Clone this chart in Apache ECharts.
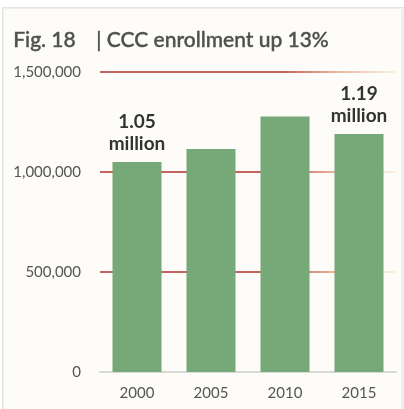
<!DOCTYPE html>
<html>
<head>
<meta charset="utf-8">
<script src="https://cdn.jsdelivr.net/npm/echarts@6/dist/echarts.min.js"></script>
<style>
  html, body { margin: 0; padding: 0; background: #ffffff; }
  #chart { width: 404px; height: 409px; }
</style>
</head>
<body>
<div id="chart"></div>
<script>
// Community college enrollment by year
const years = ['2000', '2005', '2010', '2015'];
const enrollment = [1050000, 1115000, 1277000, 1190000];
const valueLabels = ['1.05\nmillion', '', '', '1.19\nmillion'];
const yTicks = [0, 500000, 1000000, 1500000];

const chart = echarts.init(document.getElementById('chart'), null, { renderer: 'canvas' });

const fmt = v => v.toLocaleString('en-US');

chart.setOption({
  animation: false,
  backgroundColor: '#ffffff',
  graphic: [
    // card with a soft shadow on its top and left edges
    { type: 'rect', shape: { x: 2, y: 7, width: 402, height: 402 }, style: { fill: '#e4e4e2' }, silent: true, z: -10 },
    { type: 'rect', shape: { x: 3, y: 8, width: 401, height: 401 }, style: { fill: '#efefec' }, silent: true, z: -10 },
    { type: 'rect', shape: { x: 4, y: 9, width: 397, height: 400 }, style: { fill: '#fdfcf8' }, silent: true, z: -10 },
    {
      type: 'text', left: 13, top: 30,
      style: { text: 'Fig. 18', font: '500 21px Lato', fill: '#505050', stroke: '#505050', lineWidth: 0.4 }
    },
    {
      type: 'text', left: 96, top: 30,
      style: { text: '| CCC enrollment up 13%', font: '500 21px Lato', fill: '#505050', stroke: '#505050', lineWidth: 0.4 }
    }
  ],
  grid: { left: 100, right: 8, top: 72, bottom: 37 },
  xAxis: {
    type: 'category',
    data: years,
    axisLine: { show: true, lineStyle: { color: '#d9d9d6', width: 2 } },
    axisTick: { show: false },
    axisLabel: { color: '#555555', fontSize: 15, fontFamily: 'Lato', margin: 14 }
  },
  yAxis: {
    type: 'value',
    min: yTicks[0],
    max: yTicks[yTicks.length - 1],
    interval: yTicks[1] - yTicks[0],
    axisLine: { show: false },
    axisTick: { show: false },
    axisLabel: {
      color: '#555555', fontSize: 15, fontFamily: 'Lato', margin: 19,
      formatter: v => (v === 0 ? '0' : fmt(v))
    },
    splitLine: {
      show: true,
      lineStyle: {
        width: 1.5,
        color: {
          type: 'linear', global: true, x: 100, y: 0, x2: 397, y2: 0,
          colorStops: [
            { offset: 0, color: '#b5302a' },
            { offset: 0.62, color: '#b5302a' },
            { offset: 0.8, color: '#e7a285' },
            { offset: 1, color: '#f6efd9' }
          ]
        }
      }
    }
  },
  series: [{
    type: 'bar',
    data: enrollment,
    barWidth: 49,
    itemStyle: { color: '#77a877' },
    z: 3,
    label: {
      show: true,
      position: 'top',
      distance: 7,
      formatter: p => valueLabels[p.dataIndex],
      color: '#333333',
      fontSize: 19,
      fontWeight: 'bold',
      fontFamily: 'Lato',
      lineHeight: 22,
      align: 'center'
    }
  }]
});
</script>
</body>
</html>
